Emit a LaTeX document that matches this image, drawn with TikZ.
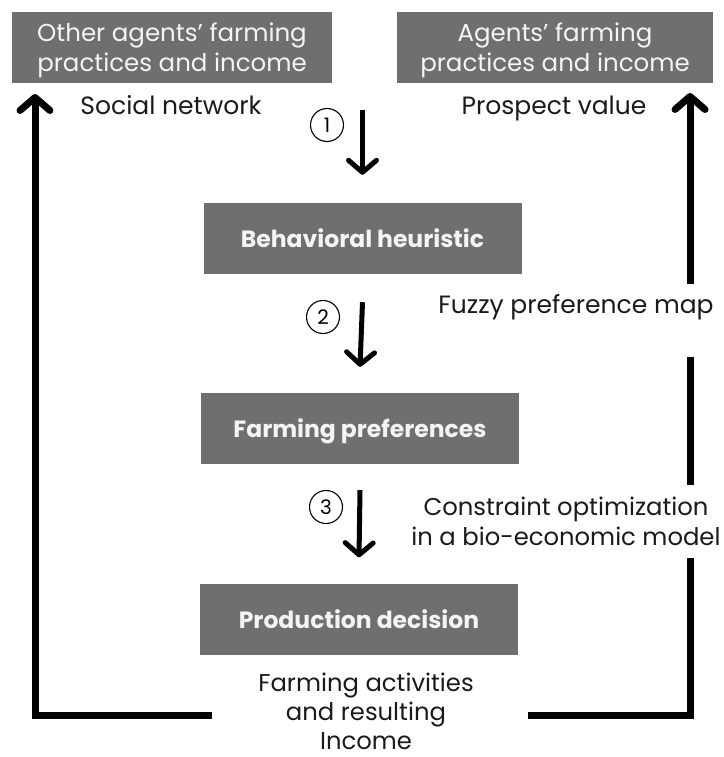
\documentclass[tikz,border=0pt]{standalone}
\usepackage{fontspec}
\setmainfont{Poppins}
\usetikzlibrary{arrows.meta}
\definecolor{boxgray}{HTML}{6F6F6F}
\definecolor{boxtxt}{HTML}{F4F4F4}
\definecolor{labtxt}{HTML}{1A1A1A}
\begin{document}
\begin{tikzpicture}[x=1pt,y=-1pt,
  gbox/.style={fill=boxgray, text=boxtxt, inner sep=0pt, align=center, minimum height=71pt},
  topbox/.style={gbox, text depth=0pt, font=\fontsize{24.5}{30}\selectfont},
  midbox/.style={gbox, minimum width=318pt, text depth=0pt, font=\bfseries\fontsize{23.5}{24}\selectfont},
  lab/.style={text=labtxt, inner sep=0pt, align=center, font=\fontsize{25}{30}\selectfont},
  num/.style={circle, draw=black, line width=1.1pt, minimum size=33pt, inner sep=0pt, font=\fontsize{20}{20}\selectfont},
  dnarrow/.style={line width=5pt, -{Straight Barb[length=12pt,width=28pt,round]}},
  loopline/.style={line width=7pt},
  looparrow/.style={loopline, -{Straight Barb[length=13pt,width=30pt,round]}}
]
\useasboundingbox (0,0) rectangle (723,757);
% top boxes
\node[topbox, minimum width=320pt] (o1) at (172,47.5) {Other agents’ farming\\practices and income};
\node[topbox, minimum width=316pt] (a2) at (555,47.5) {Agents’ farming\\practices and income};
% middle boxes
\node[midbox] (bh) at (362.5,238.5) {Behavioral heuristic};
\node[midbox] (fp) at (360,428.5) {Farming preferences};
\node[midbox] (pd) at (359,619) {Production decision};
% labels
\node[lab, anchor=base] (sn) at (171,115) {Social network};
\node[lab, anchor=base] (pv) at (554,115) {Prospect value};
\node[lab, anchor=base] (fz) at (576,313) {Fuzzy preference map};
\node[lab, font=\fontsize{24.3}{30}\selectfont] (cons) at (566,521) {Constraint optimization\\in a bio-economic model};
\node[lab, font=\fontsize{24.3}{29}\selectfont] (inc) at (366,711) {Farming activities\\and resulting\\Income};
% numbers
\node[num] (c1) at (327,125) {1};
\node[num] (c2) at (323,317) {2};
\node[num] (c3) at (326,507) {3};
% step arrows
\draw[dnarrow] ([yshift=93pt]bh.north) -- ([yshift=28pt]bh.north);
\draw[dnarrow] ([yshift=-28pt]bh.south) -- ([yshift=26pt]fp.north);
\draw[dnarrow] ([yshift=-26pt]fp.south) -- ([yshift=26pt]pd.north);
% loop coordinates
\coordinate (lt) at (35,94);
\coordinate (lb) at (212,715);
\coordinate (rb) at (528,715);
\coordinate (r1) at (690,558);
\coordinate (r2) at (690,485);
\coordinate (r3) at (690,357);
\coordinate (r4) at (690,284);
\coordinate (rt) at (690,93);
% left loop
\draw[looparrow] (lb) -| (lt);
% right loop
\draw[loopline] (rb) -| (r1);
\draw[loopline] (r2) -- (r3);
\draw[looparrow] (r4) -- (rt);
\end{tikzpicture}
\end{document}
